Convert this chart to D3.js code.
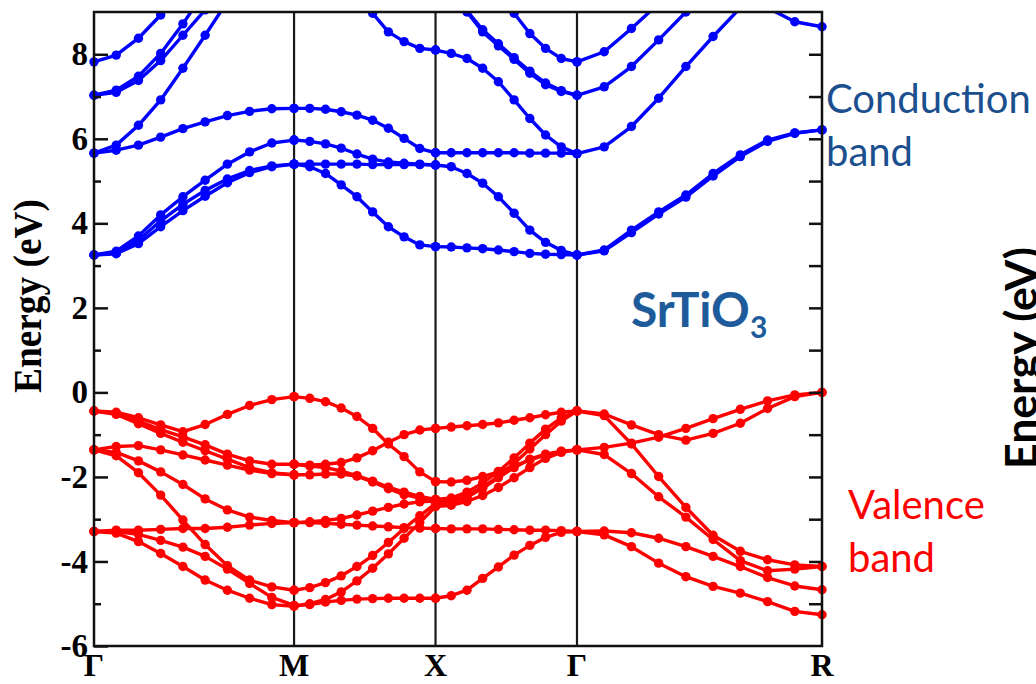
<!DOCTYPE html>
<html>
<head>
<meta charset="utf-8">
<script src="https://cdn.jsdelivr.net/npm/d3@7"></script>
<style>
  body { margin: 0; background: #fff; }
  svg { display: block; }
</style>
</head>
<body>
<svg id="chart" width="1036" height="684"></svg>
<script>
// High-symmetry points of the cubic Brillouin zone and their path positions
const kLabels = ["Γ", "M", "X", "Γ", "R"];
const kNodes = [0, 0.7071, 1.2071, 1.7071, 2.5731];

const energyTicks = [-6, -4, -2, 0, 2, 4, 6, 8];
const energyMinor = [-5, -3, -1, 1, 3, 5, 7];
const energyRight = [-5, -4, -3, -2, -1, 0, 1, 2, 3, 4, 5, 6, 7, 8];

// Band energies (eV), 10 k-points per path segment; null = above the window
const conductionGM = [
  [3.25, 3.34, 3.70, 4.20, 4.63, 5.02, 5.40, 5.69, 5.90, 5.97],
  [3.25, 3.30, 3.60, 4.06, 4.45, 4.78, 5.05, 5.25, 5.36, 5.40],
  [3.25, 3.28, 3.52, 3.92, 4.30, 4.64, 4.96, 5.20, 5.34, 5.40],
  [5.66, 5.73, 5.85, 6.04, 6.24, 6.40, 6.55, 6.65, 6.71, 6.72],
  [5.66, 5.85, 6.32, 6.92, 7.67, 8.45, 9.25],
  [7.03, 7.15, 7.48, 8.02, 8.72, 9.50],
  [7.03, 7.10, 7.38, 7.85, 8.45, 9.05, 9.60],
  [7.82, 7.98, 8.38, 8.93, 9.60]
];
const conductionMX = [
  [6.72, 6.72, 6.70, 6.64, 6.56, 6.44, 6.25, 6.01, 5.77, 5.67],
  [5.97, 5.94, 5.88, 5.78, 5.64, 5.52, 5.45, 5.42, 5.40, 5.38],
  [5.40, 5.40, 5.40, 5.40, 5.40, 5.39, 5.39, 5.39, 5.39, 5.38],
  [5.40, 5.34, 5.18, 4.91, 4.63, 4.27, 3.92, 3.68, 3.49, 3.45],
  [null, null, null, null, 9.40, 8.97, 8.53, 8.30, 8.14, 8.10]
];
const conductionXG = [
  [5.67, 5.67, 5.67, 5.67, 5.67, 5.67, 5.66, 5.66, 5.66, 5.65],
  [3.45, 3.44, 3.42, 3.40, 3.37, 3.33, 3.29, 3.27, 3.26, 3.25],
  [5.38, 5.34, 5.18, 4.95, 4.63, 4.24, 3.84, 3.55, 3.36, 3.25],
  [8.10, 8.02, 7.90, 7.67, 7.35, 6.92, 6.48, 6.09, 5.81, 5.65],
  [null, 9.45, 9.00, 8.53, 8.20, 7.88, 7.55, 7.28, 7.12, 7.03],
  [null, 9.50, 9.03, 8.58, 8.25, 7.92, 7.60, 7.32, 7.14, 7.03],
  [null, null, null, null, 9.45, 8.97, 8.49, 8.14, 7.90, 7.82]
];
const conductionGR = [
  [3.25, 3.37, 3.84, 4.27, 4.67, 5.18, 5.62, 5.97, 6.14, 6.21],
  [3.25, 3.35, 3.78, 4.22, 4.62, 5.12, 5.58, 5.94, 6.13, 6.21],
  [5.65, 5.81, 6.29, 6.96, 7.71, 8.42, 9.10],
  [7.03, 7.23, 7.71, 8.34, 9.00, 9.65],
  [7.82, 8.06, 8.61, 9.20],
  [null, null, null, null, null, null, null, 9.10, 8.77, 8.65]
];

const valenceGM = [
  [-0.44, -0.47, -0.60, -0.77, -0.93, -0.76, -0.52, -0.31, -0.17, -0.10],
  [-0.44, -0.50, -0.68, -0.88, -1.05, -1.24, -1.46, -1.62, -1.70, -1.70],
  [-0.44, -0.52, -0.74, -0.97, -1.18, -1.38, -1.58, -1.78, -1.90, -1.95],
  [-1.36, -1.28, -1.26, -1.36, -1.48, -1.60, -1.72, -1.84, -1.92, -1.95],
  [-1.36, -1.42, -1.62, -1.88, -2.18, -2.52, -2.78, -2.95, -3.03, -3.08],
  [-1.36, -1.50, -1.90, -2.43, -3.02, -3.60, -4.10, -4.44, -4.60, -4.68],
  [-3.29, -3.26, -3.26, -3.24, -3.22, -3.22, -3.19, -3.14, -3.10, -3.08],
  [-3.29, -3.33, -3.53, -3.81, -4.12, -4.44, -4.68, -4.87, -5.02, -5.06],
  [-3.29, -3.29, -3.36, -3.50, -3.66, -3.88, -4.18, -4.52, -4.85, -5.04]
];
const valenceMX = [
  [-0.10, -0.14, -0.22, -0.37, -0.57, -0.85, -1.22, -1.52, -1.88, -2.11],
  [-1.70, -1.72, -1.70, -1.66, -1.55, -1.38, -1.18, -1.00, -0.89, -0.85],
  [-1.70, -1.74, -1.78, -1.86, -1.97, -2.10, -2.24, -2.36, -2.46, -2.53],
  [-1.95, -1.95, -1.93, -1.93, -1.98, -2.12, -2.28, -2.42, -2.50, -2.55],
  [-3.08, -3.08, -3.10, -3.12, -3.14, -3.16, -3.18, -3.20, -3.21, -3.22],
  [-3.08, -3.06, -3.03, -2.98, -2.90, -2.81, -2.72, -2.64, -2.59, -2.57],
  [-4.68, -4.62, -4.50, -4.34, -4.12, -3.86, -3.55, -3.22, -2.92, -2.63],
  [-5.05, -5.00, -4.90, -4.72, -4.46, -4.16, -3.82, -3.45, -3.08, -2.70],
  [-5.05, -5.02, -4.96, -4.92, -4.89, -4.88, -4.87, -4.87, -4.87, -4.87]
];
const valenceXG = [
  [-0.85, -0.82, -0.79, -0.76, -0.72, -0.66, -0.60, -0.53, -0.47, -0.44],
  [-2.11, -2.12, -2.08, -1.99, -1.88, -1.74, -1.60, -1.48, -1.40, -1.36],
  [-2.53, -2.50, -2.36, -2.14, -1.87, -1.55, -1.20, -0.87, -0.60, -0.44],
  [-2.60, -2.56, -2.44, -2.24, -1.99, -1.68, -1.34, -1.00, -0.68, -0.44],
  [-2.66, -2.62, -2.48, -2.27, -2.02, -1.78, -1.58, -1.46, -1.39, -1.36],
  [-2.70, -2.67, -2.58, -2.44, -2.25, -2.02, -1.78, -1.56, -1.42, -1.36],
  [-3.22, -3.23, -3.23, -3.23, -3.24, -3.25, -3.26, -3.26, -3.27, -3.29],
  [-4.87, -4.81, -4.68, -4.40, -4.13, -3.85, -3.62, -3.43, -3.31, -3.29]
];
const valenceGR = [
  [-0.44, -0.51, -0.77, -1.00, -1.13, -0.97, -0.73, -0.38, -0.10, 0.00],
  [-1.36, -1.30, -1.20, -1.06, -0.85, -0.62, -0.40, -0.20, -0.06, 0.00],
  [-0.44, -0.55, -1.22, -1.99, -2.72, -3.38, -3.76, -3.96, -4.08, -4.12],
  [-1.36, -1.47, -1.92, -2.47, -2.95, -3.48, -3.98, -4.22, -4.18, -4.12],
  [-3.29, -3.28, -3.32, -3.45, -3.65, -3.88, -4.12, -4.38, -4.58, -4.67],
  [-3.29, -3.37, -3.65, -4.04, -4.36, -4.59, -4.75, -4.95, -5.18, -5.26]
];

const segments = [
  { from: 0, to: 1, conduction: conductionGM, valence: valenceGM },
  { from: 1, to: 2, conduction: conductionMX, valence: valenceMX },
  { from: 2, to: 3, conduction: conductionXG, valence: valenceXG },
  { from: 3, to: 4, conduction: conductionGR, valence: valenceGR }
];

const plot = { left: 94, right: 822, top: 12, bottom: 646 };
const svg = d3.select("#chart");

const x = d3.scaleLinear().domain([kNodes[0], kNodes[kNodes.length - 1]]).range([plot.left, plot.right]);
const y = d3.scaleLinear().domain([-6, 9]).range([plot.bottom, plot.top]);

svg.append("defs").append("clipPath").attr("id", "plot-clip")
  .append("rect")
  .attr("x", 0).attr("y", plot.top)
  .attr("width", 1036).attr("height", plot.bottom - plot.top);

// Turn one band of one segment into {k, e} points
function bandPoints(seg, band) {
  const k0 = kNodes[seg.from], k1 = kNodes[seg.to];
  const n = 9;
  return band.map((e, i) => ({ k: k0 + (k1 - k0) * i / n, e }));
}

// High-symmetry vertical lines
svg.append("g").selectAll("line")
  .data(kNodes.slice(1, -1))
  .join("line")
  .attr("x1", d => x(d)).attr("x2", d => x(d))
  .attr("y1", plot.top).attr("y2", plot.bottom)
  .attr("stroke", "#1a1a1a").attr("stroke-width", 2.2);

const line = d3.line()
  .defined(d => d.e != null)
  .x(d => x(d.k))
  .y(d => y(d.e));

const bands = svg.append("g").attr("clip-path", "url(#plot-clip)");

function drawBands(key, color) {
  segments.forEach(seg => {
    seg[key].forEach(band => {
      const pts = bandPoints(seg, band);
      bands.append("path")
        .datum(pts)
        .attr("d", line)
        .attr("fill", "none")
        .attr("stroke", color)
        .attr("stroke-width", 3.4)
        .attr("stroke-linejoin", "round");
      bands.append("g").selectAll("circle")
        .data(pts.filter(d => d.e != null))
        .join("circle")
        .attr("cx", d => x(d.k))
        .attr("cy", d => y(d.e))
        .attr("r", 4.7)
        .attr("fill", color);
    });
  });
}
drawBands("valence", "#ff0000");
drawBands("conduction", "#0000ff");

// Frame
svg.append("rect")
  .attr("x", plot.left).attr("y", plot.top)
  .attr("width", plot.right - plot.left).attr("height", plot.bottom - plot.top)
  .attr("fill", "none").attr("stroke", "#111").attr("stroke-width", 2.5);

// Left axis: major labelled ticks and minor ticks, drawn inward
const serif = "'Liberation Serif', 'Times New Roman', serif";
const leftAxis = svg.append("g")
  .attr("transform", `translate(${plot.left},0)`)
  .call(d3.axisLeft(y).tickValues(energyTicks).tickSize(-14).tickPadding(6)
    .tickFormat(d => String(d).replace("−", "-")));
leftAxis.select(".domain").remove();
leftAxis.selectAll("line").attr("stroke", "#111").attr("stroke-width", 2.5);
leftAxis.selectAll("text")
  .attr("font-family", serif).attr("font-weight", "bold")
  .attr("font-size", 33).attr("fill", "#000");

const leftMinor = svg.append("g")
  .attr("transform", `translate(${plot.left},0)`)
  .call(d3.axisLeft(y).tickValues(energyMinor).tickSize(-7).tickFormat(""));
leftMinor.select(".domain").remove();
leftMinor.selectAll("line").attr("stroke", "#111").attr("stroke-width", 2.5);

// Right axis: unlabelled ticks pointing inward
const rightAxis = svg.append("g")
  .attr("transform", `translate(${plot.right},0)`)
  .call(d3.axisRight(y).tickValues(energyRight).tickSize(-13).tickFormat(""));
rightAxis.select(".domain").remove();
rightAxis.selectAll("line").attr("stroke", "#111").attr("stroke-width", 2.5);

// k-point labels
svg.append("g").selectAll("text")
  .data(kNodes)
  .join("text")
  .attr("x", d => x(d))
  .attr("y", 676)
  .attr("text-anchor", "middle")
  .attr("font-family", serif).attr("font-weight", "bold")
  .attr("font-size", 32).attr("fill", "#000")
  .text((d, i) => kLabels[i]);

// Rotated title stretched along its baseline to a given length
function verticalTitle(cx, cy, len, family, size) {
  const g = svg.append("g").attr("transform", `translate(${cx},${cy}) rotate(-90)`);
  const t = g.append("text")
    .attr("text-anchor", "middle")
    .attr("font-family", family).attr("font-weight", "bold")
    .attr("font-size", size).attr("fill", "#000")
    .text("Energy (eV)");
  const natural = t.node().getComputedTextLength();
  if (natural > 0) t.attr("transform", `scale(${len / natural},1)`);
  return t;
}
verticalTitle(41, 296, 194, serif, 39);

// Annotations
const sans = "Lato, 'Open Sans', sans-serif";
const formula = svg.append("text")
  .attr("x", 631).attr("y", 327)
  .attr("font-family", sans).attr("font-weight", "bold")
  .attr("font-size", 48).attr("fill", "#1e5b9b");
formula.append("tspan").text("SrTiO");
formula.append("tspan").attr("dy", 11).attr("font-size", 30).text("3");

svg.append("text")
  .attr("font-family", sans).attr("font-size", 40).attr("fill", "#1b4f8e")
  .selectAll("tspan")
  .data(["Conduction", "band"])
  .join("tspan")
  .attr("x", 826).attr("y", (d, i) => 113 + i * 53)
  .text(d => d);

svg.append("text")
  .attr("font-family", sans).attr("font-size", 40).attr("fill", "#ff0000")
  .selectAll("tspan")
  .data(["Valence", "band"])
  .join("tspan")
  .attr("x", 848).attr("y", (d, i) => 519 + i * 53)
  .text(d => d);

verticalTitle(1037, 358, 222, sans, 43);
</script>
</body>
</html>
